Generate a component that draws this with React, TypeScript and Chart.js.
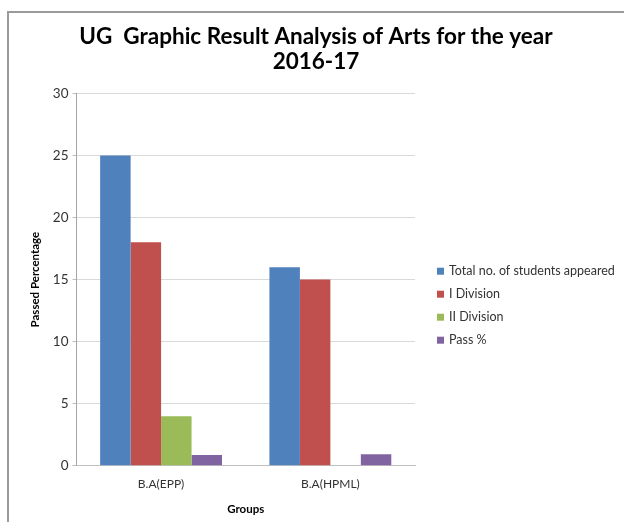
import React, { useEffect, useRef } from "react";
import { Chart, registerables, layouts } from "chart.js";

Chart.register(...registerables);

const categories = ["B.A(EPP)", "B.A(HPML)"];
const seriesNames = ["Total no. of students appeared", "I Division", "II Division", "Pass %"];
const totalAppeared = [25, 16];
const firstDivision = [18, 15];
const secondDivision = [4, 0];
const passPercent = [0.86, 0.94];
const seriesColors = ["#4F81BD", "#C0504D", "#9BBB59", "#8064A2"];
const titleLines = ["UG  Graphic Result Analysis of Arts for the year", "2016-17"];
const yTitle = "Passed Percentage";
const xTitle = "Groups";

const FONT = "Lato, 'Open Sans', sans-serif";

const sideLegend = {
  id: "sideLegend",
  beforeInit(chart: any) {
    const box: any = {
      position: "right",
      weight: 1000,
      fullSize: false,
      options: {},
      left: 0,
      top: 0,
      right: 0,
      bottom: 0,
      width: 0,
      height: 0,
      isHorizontal() {
        return false;
      },
      update(maxWidth: number, maxHeight: number) {
        this.width = 203;
        this.height = maxHeight;
      },
      draw() {
        const ctx = chart.ctx;
        const ds = chart.data.datasets;
        const rowH = 23;
        const centerY = (chart.chartArea.top + chart.height) / 2 - 2;
        const startY = centerY - ((ds.length - 1) * rowH) / 2;
        const boxX = this.left + 22;
        ctx.save();
        ctx.font = `12.5px ${FONT}`;
        ctx.textBaseline = "middle";
        ctx.textAlign = "left";
        ds.forEach((d: any, i: number) => {
          const y = startY + i * rowH;
          ctx.fillStyle = d.backgroundColor;
          ctx.fillRect(boxX, y - 3.5, 7, 7);
          ctx.fillStyle = "#333";
          ctx.fillText(d.label, boxX + 12, y);
        });
        ctx.restore();
      },
    };
    layouts.addBox(chart, box);
  },
};

export default function App() {
  const ref = useRef<HTMLCanvasElement | null>(null);

  useEffect(() => {
    if (!ref.current) return;
    const values = [totalAppeared, firstDivision, secondDivision, passPercent];
    const chart = new Chart(ref.current, {
      type: "bar",
      data: {
        labels: categories,
        datasets: seriesNames.map((name, i) => ({
          label: name,
          data: values[i],
          backgroundColor: seriesColors[i],
          borderWidth: 0,
          categoryPercentage: 0.72,
          barPercentage: 1.0,
        })),
      },
      plugins: [sideLegend],
      options: {
        responsive: false,
        animation: false,
        layout: { padding: { left: 14, top: 12, right: 6, bottom: 2 } },
        plugins: {
          title: {
            display: true,
            text: titleLines,
            color: "#000",
            font: { family: FONT, size: 22.5, weight: "bold", lineHeight: 1.12 },
            padding: { top: 12, bottom: 19 },
          },
          legend: { display: false },
          tooltip: { enabled: false },
        },
        scales: {
          x: {
            grid: { display: false },
            border: { color: "#bfbfbf" },
            ticks: { color: "#333", font: { family: FONT, size: 12 }, padding: 3 },
            title: {
              display: true,
              text: xTitle,
              color: "#000",
              font: { family: FONT, size: 11.5, weight: "bold" },
              padding: { top: 8, bottom: 4 },
            },
          },
          y: {
            min: 0,
            max: 30,
            ticks: { stepSize: 5, color: "#333", font: { family: FONT, size: 13.5 }, padding: 4 },
            grid: { color: "#d9d9d9", tickLength: 4, tickColor: "#bfbfbf" },
            border: { color: "#a6a6a6" },
            title: {
              display: true,
              text: yTitle,
              color: "#000",
              font: { family: FONT, size: 11.5, weight: "bold" },
              padding: { top: 14, bottom: 7 },
            },
          },
        },
      },
    });
    return () => chart.destroy();
  }, []);

  return (
    <div style={{ position: "fixed", left: 0, top: 0, width: 624, height: 522, background: "#fff" }}>
      <div
        style={{
          position: "absolute",
          left: 7,
          top: 11,
          width: 640,
          height: 540,
          borderLeft: "2px solid #9a9a9a",
          borderTop: "2px solid #9a9a9a",
        }}
      />
      <canvas ref={ref} width={624} height={522} style={{ position: "absolute", left: 0, top: 0 }} />
    </div>
  );
}
